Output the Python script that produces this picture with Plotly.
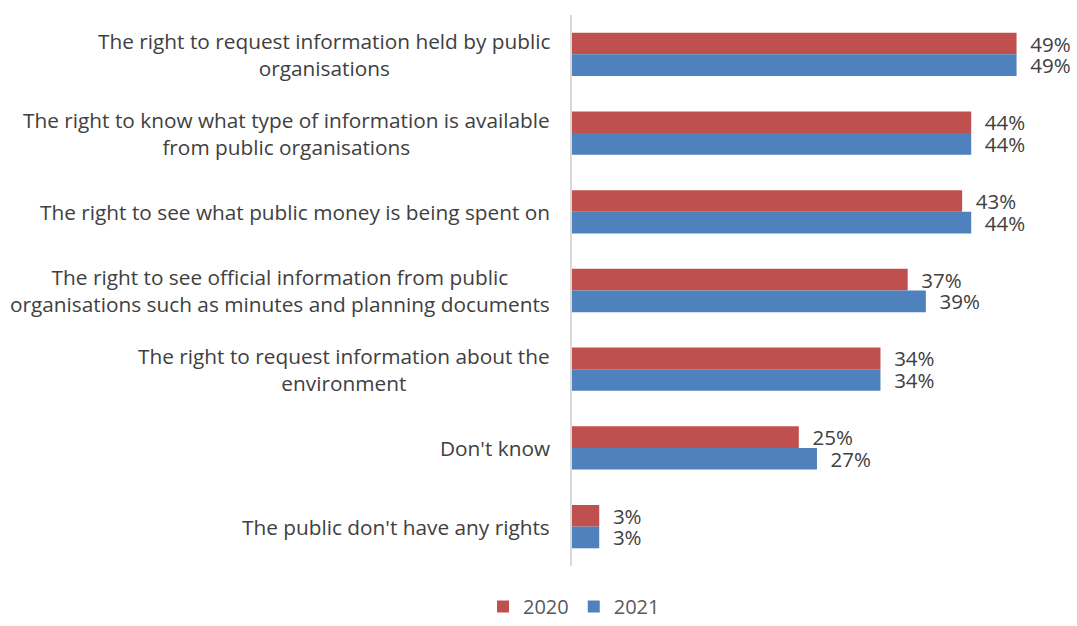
import plotly.graph_objects as go

categories = [
    "The right to request information held by public<br>organisations",
    "The right to know what type of information is available<br>from public organisations",
    "The right to see what public money is being spent on",
    "The right to see official information from public<br>organisations such as minutes and planning documents",
    "The right to request information about the<br>environment",
    "Don't know",
    "The public don't have any rights",
]
values_2020 = [0.49, 0.44, 0.43, 0.37, 0.34, 0.25, 0.03]
values_2021 = [0.49, 0.44, 0.44, 0.39, 0.34, 0.27, 0.03]

RED = "#C0504D"
BLUE = "#4F81BD"
TEXT = "#404040"
FONT = "Open Sans"

fig = go.Figure()
for name, vals, color in [("2020", values_2020, RED), ("2021", values_2021, BLUE)]:
    fig.add_trace(go.Bar(
        name=name,
        y=categories,
        x=vals,
        orientation="h",
        marker=dict(color=color, line=dict(width=0)),
        texttemplate="\u00a0\u00a0%{x:.0%}",
        textposition="outside",
        textfont=dict(family=FONT, size=20.5, color=TEXT),
        cliponaxis=False,
        constraintext="none",
    ))

# category labels, centred line-by-line and right-aligned against the axis
for cat in categories:
    fig.add_annotation(
        xref="paper", yref="y", x=0, y=cat,
        text=cat, showarrow=False,
        xanchor="right", yanchor="middle", align="center",
        xshift=-20,
        font=dict(family=FONT, size=20.8, color=TEXT),
    )

fig.update_layout(
    width=1077, height=626,
    margin=dict(l=572, r=6, t=15, b=60),
    paper_bgcolor="white", plot_bgcolor="white",
    barmode="group",
    bargap=0.45,
    bargroupgap=0,
    font=dict(family=FONT, size=19, color=TEXT),
    xaxis=dict(range=[0, 0.55], visible=False, showgrid=False, zeroline=False),
    yaxis=dict(
        autorange="reversed", showticklabels=False, ticks="",
        showline=True, linecolor="#D9D9D9", linewidth=2,
        showgrid=False, zeroline=False,
    ),
    legend=dict(
        orientation="h", x=0.004, xanchor="center",
        yref="container", y=-0.045, yanchor="bottom",
        font=dict(family=FONT, size=20, color="#595959"),
        traceorder="normal",
    ),
)

fig.write_html("out.html")
